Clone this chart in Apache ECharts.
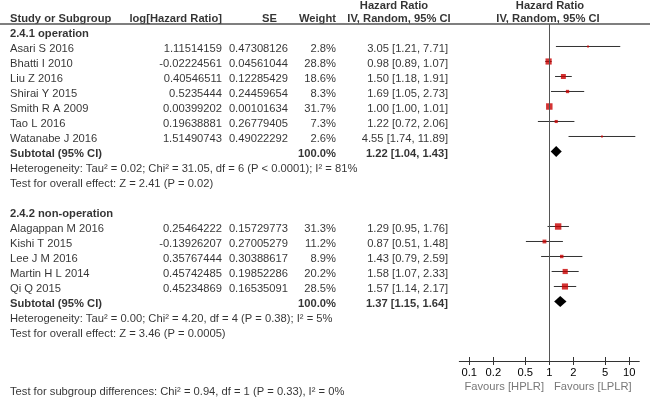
<!DOCTYPE html>
<html><head><meta charset="utf-8">
<script src="https://cdn.jsdelivr.net/npm/echarts@6/dist/echarts.min.js"></script>
<style>html,body{margin:0;padding:0;background:#fff}#c{width:650px;height:401px}</style>
</head><body><div id="c"></div>
<script>
// ---------- data ----------
const group1Title = "2.4.1 operation";
const studies1 = ["Asari S 2016","Bhatti I 2010","Liu Z 2016","Shirai Y 2015","Smith R A 2009","Tao L 2016","Watanabe J 2016"];
const logHR1 = [1.11514159,-0.02224561,0.40546511,0.5235444,0.00399202,0.19638881,1.51490743];
const se1 = [0.47308126,0.04561044,0.12285429,0.24459654,0.00101634,0.26779405,0.49022292];
const weight1 = [2.8,28.8,18.6,8.3,31.7,7.3,2.6];
const hr1 = [3.05,0.98,1.50,1.69,1.00,1.22,4.55];
const lo1 = [1.21,0.89,1.18,1.05,1.00,0.72,1.74];
const hi1 = [7.71,1.07,1.91,2.73,1.01,2.06,11.89];
const subtotal1 = [1.22,1.04,1.43];
const het1 = "Heterogeneity: Tau\u00b2 = 0.02; Chi\u00b2 = 31.05, df = 6 (P < 0.0001); I\u00b2 = 81%";
const test1 = "Test for overall effect: Z = 2.41 (P = 0.02)";

const group2Title = "2.4.2 non-operation";
const studies2 = ["Alagappan M 2016","Kishi T 2015","Lee J M 2016","Martin H L 2014","Qi Q 2015"];
const logHR2 = [0.25464222,-0.13926207,0.35767444,0.45742485,0.45234869];
const se2 = [0.15729773,0.27005279,0.30388617,0.19852286,0.16535091];
const weight2 = [31.3,11.2,8.9,20.2,28.5];
const hr2 = [1.29,0.87,1.43,1.58,1.57];
const lo2 = [0.95,0.51,0.79,1.07,1.14];
const hi2 = [1.76,1.48,2.59,2.33,2.17];
const subtotal2 = [1.37,1.15,1.64];
const het2 = "Heterogeneity: Tau\u00b2 = 0.00; Chi\u00b2 = 4.20, df = 4 (P = 0.38); I\u00b2 = 5%";
const test2 = "Test for overall effect: Z = 3.46 (P = 0.0005)";

const subgroupTest = "Test for subgroup differences: Chi\u00b2 = 0.94, df = 1 (P = 0.33), I\u00b2 = 0%";
const tickValues = [0.1,0.2,0.5,1,2,5,10];
const favoursLeft = "Favours [HPLR]";
const favoursRight = "Favours [LPLR]";
const headers = ["Study or Subgroup","log[Hazard Ratio]","SE","Weight","Hazard Ratio","IV, Random, 95% CI"];

// ---------- layout ----------
const FONT = "'Liberation Sans', Arial, sans-serif";
const FS = 11.2;
const groups = [
  {title:group1Title, studies:studies1, logHR:logHR1, se:se1, w:weight1, hr:hr1, lo:lo1, hi:hi1, sub:subtotal1, het:het1, test:test1},
  {title:group2Title, studies:studies2, logHR:logHR2, se:se2, w:weight2, hr:hr2, lo:lo2, hi:hi2, sub:subtotal2, het:het2, test:test2}
];
const ci = (h,l,u) => h.toFixed(2) + ' [' + l.toFixed(2) + ', ' + u.toFixed(2) + ']';

const colStudy=[], colLog=[], colSE=[], colW=[], colCI=[];
const whiskers=[], squares=[], diamonds=[];
let row = 0;
groups.forEach(g => {
  colStudy.push([row, g.title, true]);
  row++;
  g.studies.forEach((s,i) => {
    colStudy.push([row, s, false]);
    colLog.push([row, String(g.logHR[i]), false]);
    colSE.push([row, String(g.se[i]), false]);
    colW.push([row, g.w[i].toFixed(1)+'%', false]);
    colCI.push([row, ci(g.hr[i], g.lo[i], g.hi[i]), false]);
    whiskers.push([g.lo[i], g.hi[i], row]);
    squares.push([g.hr[i], row, g.w[i]]);
    row++;
  });
  colStudy.push([row, 'Subtotal (95% CI)', true]);
  colW.push([row, '100.0%', true]);
  colCI.push([row, ci(g.sub[0], g.sub[1], g.sub[2]), true]);
  diamonds.push([g.sub[1], g.sub[0], g.sub[2], row]);
  row++;
  colStudy.push([row, g.het, false]); row++;
  colStudy.push([row, g.test, false]); row++;
  row++;
});

function textSeries(items, x, align, color) {
  return {
    type:'scatter', xAxisIndex:2, yAxisIndex:1, clip:false, silent:true,
    symbol:'circle', symbolSize:1, itemStyle:{color:'rgba(0,0,0,0)'},
    data: items.map(it => ({
      value:[x, it[0]],
      label:{show:true, position:'inside', formatter: it[1], align: align, verticalAlign:'middle',
        fontFamily: FONT, fontSize: FS, color: color || '#000', fontWeight: it[2] ? 'bold' : 'normal'}
    }))
  };
}

const HEAD1 = -1.88, HEAD2 = -1.03;
const series = [
  textSeries(colStudy, 10, 'left'),
  textSeries(colLog, 222, 'right'),
  textSeries(colSE, 288, 'right'),
  textSeries(colW, 336, 'right'),
  textSeries(colCI, 448, 'right'),
  textSeries([[HEAD2, headers[0], true]], 10, 'left'),
  textSeries([[HEAD2, headers[1], true]], 222, 'right'),
  textSeries([[HEAD2, headers[2], true]], 277, 'right'),
  textSeries([[HEAD2, headers[3], true]], 336, 'right'),
  textSeries([[HEAD1, headers[4], true]], 394, 'center'),
  textSeries([[HEAD2, headers[5], true]], 399, 'center'),
  textSeries([[HEAD1, headers[4], true]], 550, 'center'),
  textSeries([[HEAD2, headers[5], true]], 548, 'center'),
  textSeries([[23.53, favoursLeft, false]], 544, 'right', '#555'),
  textSeries([[23.53, favoursRight, false]], 554, 'left', '#555'),
  Object.assign(textSeries([[23.87, subgroupTest, false]], 10, 'left'), {
    markLine:{silent:true, symbol:'none', label:{show:false},
      lineStyle:{color:'#555', width:1.5, type:'solid'}, data:[{yAxis:-0.7}]}
  }),
  {
    type:'custom', xAxisIndex:0, yAxisIndex:0, silent:true, clip:false,
    encode:{x:[0,1], y:2},
    data: whiskers,
    renderItem: (params, api) => {
      const a = api.coord([api.value(0), api.value(2)]);
      const b = api.coord([api.value(1), api.value(2)]);
      return {type:'line', shape:{x1:a[0], y1:a[1], x2:b[0], y2:b[1]}, style:{stroke:'#333', lineWidth:1}};
    },
    markLine:{silent:true, symbol:'none', label:{show:false},
      lineStyle:{color:'#555', width:1, type:'solid'}, data:[{xAxis:1}]}
  },
  {
    type:'scatter', xAxisIndex:0, yAxisIndex:0, silent:true, clip:false,
    symbol:'rect', symbolSize: v => Math.max(2, 1.15*Math.sqrt(v[2])),
    itemStyle:{color:'#c80000'},
    data: squares, z:3
  },
  {
    type:'custom', xAxisIndex:0, yAxisIndex:0, silent:true, clip:false,
    encode:{x:[0,1,2], y:3},
    data: diamonds,
    renderItem: (params, api) => {
      const l = api.coord([api.value(0), api.value(3)]);
      const m = api.coord([api.value(1), api.value(3)]);
      const u = api.coord([api.value(2), api.value(3)]);
      const h = 5.5;
      return {type:'polygon', shape:{points:[[l[0],l[1]],[m[0],m[1]-h],[u[0],u[1]],[m[0],m[1]+h]]},
        style:{fill:'#000'}};
    },
    z:4
  }
];

const chart = echarts.init(document.getElementById('c'), null, {renderer:'canvas'});
chart.setOption({
  animation:false,
  backgroundColor:'#fff',
  grid:[
    {left:459.3, width:180, top:24, height:337, containLabel:false},
    {left:0, top:0, width:650, height:401, containLabel:false}
  ],
  xAxis:[
    {type:'log', gridIndex:0, logBase:10, min:0.07499, max:13.335, position:'bottom',
      axisLine:{show:true, onZero:false, lineStyle:{color:'#333', width:1}},
      axisTick:{show:true, length:4, customValues:tickValues, lineStyle:{color:'#333'}},
      axisLabel:{show:true, margin:6, customValues:tickValues, fontFamily:FONT, fontSize:FS, color:'#000',
        formatter: v => String(+Number(v).toPrecision(3))},
      splitLine:{show:false}, minorTick:{show:false}},
    {type:'log', gridIndex:0, logBase:10, min:0.07499, max:13.335, position:'bottom',
      axisLine:{show:false, onZero:false},
      axisTick:{show:true, inside:true, length:4, customValues:tickValues, lineStyle:{color:'#333'}},
      axisLabel:{show:false}, splitLine:{show:false}},
    {type:'value', gridIndex:1, min:0, max:650, show:false}
  ],
  yAxis:[
    {type:'value', gridIndex:0, inverse:true, min:-0.5, max:21.9667, show:false},
    {type:'value', gridIndex:1, inverse:true, min:-34/15, max:367/15, show:false}
  ],
  series: series
});
</script></body></html>
